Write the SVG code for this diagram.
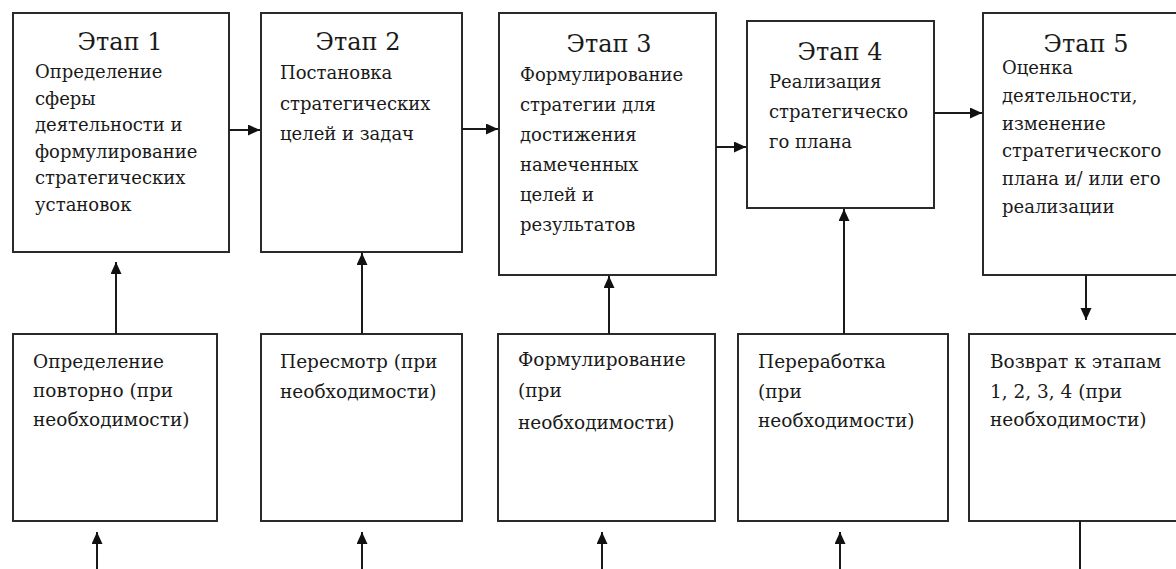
<svg xmlns="http://www.w3.org/2000/svg" width="1176" height="569" viewBox="0 0 1176 569">
  <style>
    .box { fill: #ffffff; stroke: #2a2a2a; stroke-width: 2; }
    .title { font-family: "DejaVu Serif", "Noto Serif", "Liberation Serif", serif; font-size: 24px; fill: #1a1a1a; text-anchor: middle; }
    .txt { font-family: "DejaVu Serif", "Noto Serif", "Liberation Serif", serif; font-size: 18px; fill: #1a1a1a; }
    .low .txt { font-size: 18.5px; }
    .conn { stroke: #1a1a1a; stroke-width: 2; fill: none; }
  </style>
  <defs>
    <marker id="arrow" markerUnits="userSpaceOnUse" markerWidth="13" markerHeight="12" refX="12" refY="5.5" orient="auto">
      <path d="M0,0 L12,5.5 L0,11 z" fill="#111"/>
    </marker>
  </defs>
  <rect width="1176" height="569" fill="#ffffff"/>

  <!-- stage boxes, top row -->
  <g id="stage1">
    <rect class="box" x="13" y="13" width="216" height="239"/>
    <text class="title" x="120" y="50">Этап 1</text>
    <text class="txt" x="35" y="78">Определение</text>
    <text class="txt" x="35" y="105">сферы</text>
    <text class="txt" x="35" y="131">деятельности  и</text>
    <text class="txt" x="35" y="158">формулирование</text>
    <text class="txt" x="35" y="184">стратегических</text>
    <text class="txt" x="35" y="211">установок</text>
  </g>
  <g id="stage2">
    <rect class="box" x="261" y="13" width="201" height="239"/>
    <text class="title" x="358" y="50">Этап 2</text>
    <text class="txt" x="280" y="79">Постановка</text>
    <text class="txt" x="280" y="110">стратегических</text>
    <text class="txt" x="280" y="140">целей и задач</text>
  </g>
  <g id="stage3">
    <rect class="box" x="499" y="13" width="217" height="262"/>
    <text class="title" x="609" y="52">Этап 3</text>
    <text class="txt" x="520" y="81">Формулирование</text>
    <text class="txt" x="520" y="111">стратегии для</text>
    <text class="txt" x="520" y="141">достижения</text>
    <text class="txt" x="520" y="171">намеченных</text>
    <text class="txt" x="520" y="201">целей и</text>
    <text class="txt" x="520" y="231">результатов</text>
  </g>
  <g id="stage4">
    <rect class="box" x="747" y="21" width="187" height="187"/>
    <text class="title" x="840" y="60">Этап 4</text>
    <text class="txt" x="769" y="88">Реализация</text>
    <text class="txt" x="769" y="118">стратегическо</text>
    <text class="txt" x="769" y="148">го плана</text>
  </g>
  <g id="stage5">
    <rect class="box" x="983" y="13" width="210" height="262"/>
    <text class="title" x="1086" y="52">Этап 5</text>
    <text class="txt" x="1002" y="74">Оценка</text>
    <text class="txt" x="1002" y="102">деятельности,</text>
    <text class="txt" x="1002" y="130">изменение</text>
    <text class="txt" x="1002" y="157">стратегического</text>
    <text class="txt" x="1002" y="185">плана и/ или его</text>
    <text class="txt" x="1002" y="213">реализации</text>
  </g>

  <!-- revision boxes, bottom row -->
  <g id="revise1" class="low">
    <rect class="box" x="13" y="334" width="204" height="187"/>
    <text class="txt" x="33" y="368">Определение</text>
    <text class="txt" x="33" y="397">повторно (при</text>
    <text class="txt" x="33" y="426">необходимости)</text>
  </g>
  <g id="revise2" class="low">
    <rect class="box" x="261" y="334" width="201" height="187"/>
    <text class="txt" x="280" y="368">Пересмотр (при</text>
    <text class="txt" x="280" y="398">необходимости)</text>
  </g>
  <g id="revise3" class="low">
    <rect class="box" x="498" y="334" width="217" height="187"/>
    <text class="txt" x="518" y="366">Формулирование</text>
    <text class="txt" x="518" y="397">(при</text>
    <text class="txt" x="518" y="429">необходимости)</text>
  </g>
  <g id="revise4" class="low">
    <rect class="box" x="738" y="334" width="210" height="187"/>
    <text class="txt" x="758" y="368">Переработка</text>
    <text class="txt" x="758" y="398">(при</text>
    <text class="txt" x="758" y="427">необходимости)</text>
  </g>
  <g id="revise5" class="low">
    <rect class="box" x="969" y="334" width="220" height="187"/>
    <text class="txt" x="990" y="368">Возврат к этапам</text>
    <text class="txt" x="990" y="398">1, 2, 3, 4 (при</text>
    <text class="txt" x="990" y="426">необходимости)</text>
  </g>

  <!-- connectors -->
  <g id="connectors">
    <line class="conn" x1="229" y1="130" x2="260" y2="130" marker-end="url(#arrow)"/>
    <line class="conn" x1="462" y1="129" x2="498" y2="129" marker-end="url(#arrow)"/>
    <line class="conn" x1="716" y1="147" x2="746" y2="147" marker-end="url(#arrow)"/>
    <line class="conn" x1="934" y1="113" x2="982" y2="113" marker-end="url(#arrow)"/>

    <line class="conn" x1="116" y1="334" x2="116" y2="262" marker-end="url(#arrow)"/>
    <line class="conn" x1="362" y1="334" x2="362" y2="253" marker-end="url(#arrow)"/>
    <line class="conn" x1="609" y1="334" x2="609" y2="276" marker-end="url(#arrow)"/>
    <line class="conn" x1="844" y1="334" x2="844" y2="209" marker-end="url(#arrow)"/>
    <line class="conn" x1="1086" y1="275" x2="1086" y2="320" marker-end="url(#arrow)"/>

    <line class="conn" x1="97" y1="569" x2="97" y2="532" marker-end="url(#arrow)"/>
    <line class="conn" x1="362" y1="569" x2="362" y2="532" marker-end="url(#arrow)"/>
    <line class="conn" x1="602" y1="569" x2="602" y2="532" marker-end="url(#arrow)"/>
    <line class="conn" x1="840" y1="569" x2="840" y2="532" marker-end="url(#arrow)"/>
    <line class="conn" x1="1080" y1="521" x2="1080" y2="569"/>
  </g>
</svg>
